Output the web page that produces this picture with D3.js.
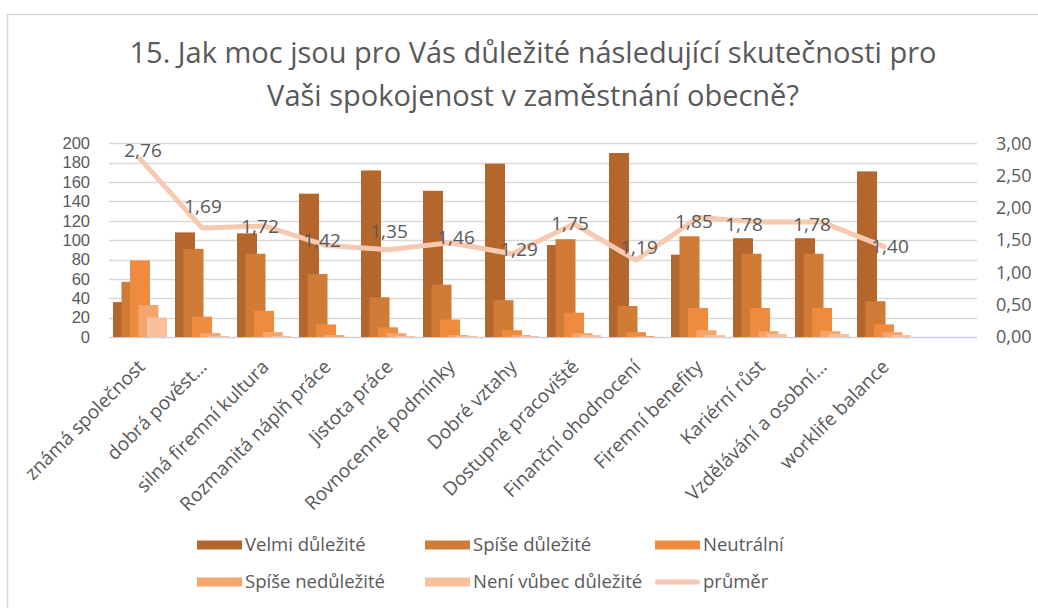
<!DOCTYPE html>
<html>
<head>
<meta charset="utf-8">
<script src="https://cdn.jsdelivr.net/npm/d3@7"></script>
<style>
  body { margin: 0; background: #fff; }
  svg { display: block; font-family: "Open Sans", sans-serif; }
</style>
</head>
<body>
<script>
// categories (the last one is empty in the original sheet)
var categories = ["známá společnost", "dobrá pověst…", "silná firemní kultura", "Rozmanitá náplň práce",
  "Jistota práce", "Rovnocenné podmínky", "Dobré vztahy", "Dostupné pracoviště",
  "Finanční ohodnocení", "Firemní benefity", "Kariérní růst", "Vzdělávání a osobní…",
  "worklife balance", ""];

var seriesNames = ["Velmi důležité", "Spíše důležité", "Neutrální", "Spíše nedůležité", "Není vůbec důležité"];
var velmi   = [36, 108, 107, 148, 172, 151, 179, 95, 190, 85, 102, 102, 171];
var spise   = [57, 91, 86, 65, 41, 54, 38, 101, 32, 104, 86, 86, 37];
var neutral = [79, 21, 27, 13, 10, 18, 7, 25, 5, 30, 30, 30, 13];
var spiseNe = [33, 4, 5, 2, 4, 2, 2, 4, 1, 7, 6, 6, 5];
var neni    = [20, 1, 1, 0, 1, 1, 1, 2, 0, 2, 3, 3, 2];
var prumer  = [2.76, 1.69, 1.72, 1.42, 1.35, 1.46, 1.29, 1.75, 1.19, 1.85, 1.78, 1.78, 1.40];

var leftTicks = [0, 20, 40, 60, 80, 100, 120, 140, 160, 180, 200];
var rightTicks = [0, 0.5, 1, 1.5, 2, 2.5, 3];

var colors = ["#b5662c", "#d07b36", "#ee8b3e", "#f4a56b", "#f8c09c"];
var lineColor = "#f7c9b0";
var textColor = "#595959";

var w = 1038, h = 608;
var svg = d3.select("body").append("svg").attr("width", w).attr("height", h);

// chart frame
svg.append("rect").attr("x", 7.5).attr("y", 14.5).attr("width", 1100).attr("height", 700)
  .attr("fill", "#fff").attr("stroke", "#d9d9d9").attr("stroke-width", 1.5);

// title
var title = svg.append("text").attr("text-anchor", "middle").attr("fill", textColor)
  .style("font-size", "29px");
title.append("tspan").attr("x", 533).attr("y", 63).text("15. Jak moc jsou pro Vás důležité následující skutečnosti pro");
title.append("tspan").attr("x", 533).attr("y", 106).text("Vaši spokojenost v zaměstnání obecně?");

var x = d3.scaleBand().domain(categories).range([109, 977]);
var y = d3.scaleLinear().domain([0, 200]).range([337, 143.3]);
var y2 = d3.scaleLinear().domain([0, 3]).range([337, 143.3]);

// gridlines
svg.append("g").selectAll("line").data(leftTicks).enter().append("line")
  .attr("x1", 109).attr("x2", 977)
  .attr("y1", function(d) { return Math.round(y(d)) + 0.5 })
  .attr("y2", function(d) { return Math.round(y(d)) + 0.5 })
  .attr("stroke", function(d) { return d == 0 ? "#c8d0dc" : "#d9d9d9" })
  .attr("stroke-width", 1.3);

// left axis (tight line box so the labels fit the 20-step spacing)
svg.append("g").selectAll("text").data(leftTicks).enter().append("text")
  .attr("x", 90).attr("y", function(d) { return y(d) }).attr("dy", "0.35em")
  .attr("text-anchor", "end").attr("fill", textColor)
  .style("font-family", "'Liberation Sans', sans-serif").style("font-size", "16.5px")
  .text(function(d) { return d });

// right axis
var fmt = d3.format(".2f");
svg.append("g").selectAll("text").data(rightTicks).enter().append("text")
  .attr("x", 996).attr("y", function(d) { return y2(d) }).attr("dy", "0.35em")
  .attr("text-anchor", "start").attr("fill", textColor).style("font-size", "18px")
  .text(function(d) { return fmt(d).replace(".", ",") });

// bars, overlapping clusters, later series in front
var series = [velmi, spise, neutral, spiseNe, neni];
var barW = 20, step = 8.5;
var clusterW = step * (series.length - 1) + barW;
for (var s = 0; s < series.length; s++) {
  svg.append("g").selectAll("rect").data(series[s]).enter().append("rect")
    .attr("x", function(d, i) { return x(categories[i]) + x.bandwidth() / 2 - clusterW / 2 + s * step })
    .attr("y", function(d) { return y(d) })
    .attr("width", barW)
    .attr("height", function(d) { return y(0) - y(d) })
    .attr("fill", colors[s]);
}

// average line
var line = d3.line()
  .x(function(d, i) { return x(categories[i]) + x.bandwidth() / 2 })
  .y(function(d) { return y2(d) });
svg.append("path").datum(prumer).attr("d", line)
  .attr("fill", "none").attr("stroke", lineColor).attr("stroke-width", 5)
  .attr("stroke-linejoin", "round").attr("stroke-linecap", "round");

// data labels, nudged like in the original
var nudge = [[3, -8], [1, -22], [-4, 0], [-4, -5], [1, -18], [6, -5], [7, -4],
  [-4, -1], [3, -13], [-4, 4], [-16, 2], [-10, 2], [6, 0]];
svg.append("g").selectAll("text").data(prumer).enter().append("text")
  .attr("x", function(d, i) { return x(categories[i]) + x.bandwidth() / 2 + nudge[i][0] })
  .attr("y", function(d, i) { return y2(d) + nudge[i][1] })
  .attr("dy", "0.35em").attr("text-anchor", "middle")
  .attr("fill", textColor).style("font-size", "19px")
  .text(function(d) { return fmt(d).replace(".", ",") });

// category labels
svg.append("g").selectAll("text").data(categories).enter().append("text")
  .attr("transform", function(d) { return "translate(" + (x(d) + x.bandwidth() / 2 + 6) + ",368) rotate(-45)" })
  .attr("text-anchor", "end").attr("fill", textColor).style("font-size", "19px")
  .text(function(d) { return d });

// legend
var legendItems = seriesNames.concat(["průměr"]);
var legendX = [197, 425, 655];
var legendY = [545, 582];
var leg = svg.append("g").selectAll("g").data(legendItems).enter().append("g")
  .attr("transform", function(d, i) { return "translate(" + legendX[i % 3] + "," + legendY[Math.floor(i / 3)] + ")" });
leg.append("rect")
  .attr("x", 0).attr("y", function(d, i) { return i < 5 ? -4.5 : -2.5 })
  .attr("width", 45).attr("height", function(d, i) { return i < 5 ? 9 : 5 })
  .attr("rx", function(d, i) { return i < 5 ? 0 : 2.5 })
  .attr("fill", function(d, i) { return i < 5 ? colors[i] : lineColor });
leg.append("text").attr("x", 48).attr("dy", "0.35em").attr("fill", textColor)
  .style("font-size", "18.5px").text(function(d) { return d });
</script>
</body>
</html>
